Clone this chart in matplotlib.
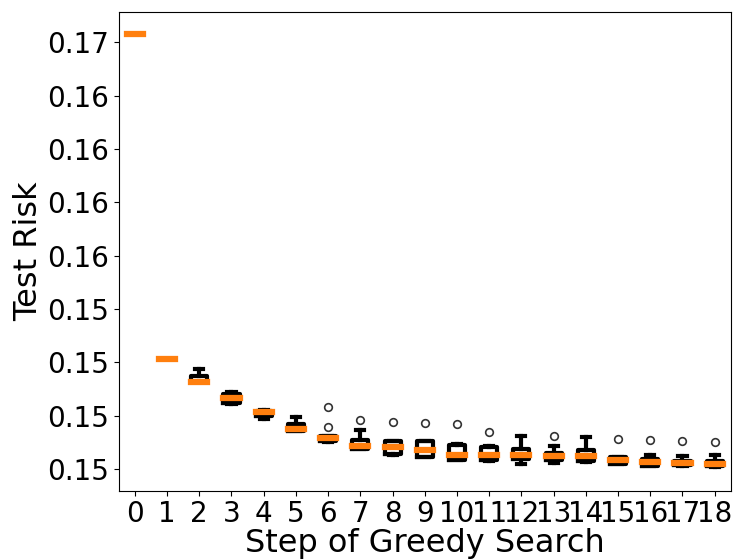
import matplotlib
matplotlib.use("Agg")
import matplotlib.pyplot as plt

# box statistics per greedy step
steps = list(range(19))
whislo = [0.16540, 0.15015, 0.14905, 0.14805, 0.14732, 0.14676, 0.14627, 0.14592, 0.14563, 0.14554,
          0.14540, 0.14537, 0.14521, 0.14528, 0.14533, 0.14521, 0.14512, 0.14514, 0.14510]
q1 = [0.16540, 0.15015, 0.14905, 0.14810, 0.14749, 0.14678, 0.14629, 0.14594, 0.14568, 0.14556,
      0.14542, 0.14540, 0.14545, 0.14540, 0.14535, 0.14523, 0.14514, 0.14516, 0.14512]
med = [0.16540, 0.15015, 0.14907, 0.14833, 0.14767, 0.14689, 0.14644, 0.14609, 0.14602, 0.14586,
       0.14566, 0.14566, 0.14566, 0.14561, 0.14562, 0.14541, 0.14534, 0.14527, 0.14524]
q3 = [0.16540, 0.15015, 0.14934, 0.14849, 0.14772, 0.14711, 0.14652, 0.14636, 0.14629, 0.14629,
      0.14613, 0.14603, 0.14591, 0.14573, 0.14589, 0.14554, 0.14545, 0.14538, 0.14535]
whishi = [0.16540, 0.15015, 0.14969, 0.14861, 0.14774, 0.14744, 0.14655, 0.14683, 0.14632, 0.14632,
          0.14615, 0.14608, 0.14652, 0.14606, 0.14648, 0.14556, 0.14566, 0.14559, 0.14566]
fliers = [[], [], [], [], [], [], [0.14792, 0.14694], [0.14730], [0.14720], [0.14714],
          [0.14710], [0.14674], [], [0.14655], [], [0.14642], [0.14633], [0.14631], [0.14628]]

yticks = [0.145 + 0.0025 * i for i in range(9)]
ytick_labels = ['0.15', '0.15', '0.15', '0.15', '0.16', '0.16', '0.16', '0.16', '0.17']

stats = []
for i in steps:
    stats.append({'label': str(i), 'whislo': whislo[i], 'q1': q1[i], 'med': med[i],
                  'q3': q3[i], 'whishi': whishi[i], 'fliers': fliers[i]})

fig = plt.figure(figsize=(7.33, 5.6), dpi=100)
ax = fig.add_axes([0.162, 0.124, 0.835, 0.854])

lw = 3
ax.bxp(stats, positions=steps, widths=0.5,
       boxprops=dict(linewidth=lw, color='black', solid_joinstyle='round'),
       whiskerprops=dict(linewidth=lw, color='black'),
       capprops=dict(linewidth=lw, color='black'),
       medianprops=dict(linewidth=4.5, color='#ff7f0e', zorder=4,
                        solid_capstyle='projecting'),
       flierprops=dict(marker='o', markersize=5.5, markerfacecolor='none',
                       markeredgecolor='#333333', markeredgewidth=1.2))

ax.set_xlim(-0.5, 18.5)
ax.set_ylim(0.14398, 0.16641)
ax.set_yticks(yticks)
ax.set_yticklabels(ytick_labels)
ax.tick_params(axis='both', labelsize=20)
ax.set_xlabel('Step of Greedy Search', fontsize=23, labelpad=0)
ax.set_ylabel('Test Risk', fontsize=23, labelpad=2)

plt.savefig('out.png', dpi=100)
